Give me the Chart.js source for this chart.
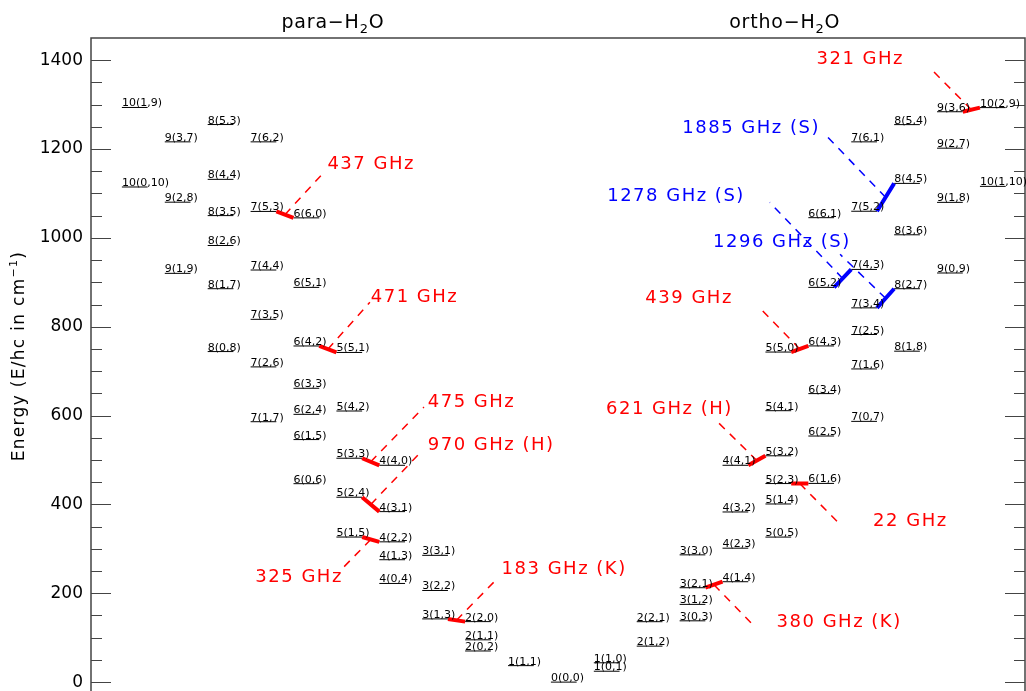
<!DOCTYPE html>
<html>
<head>
<meta charset="utf-8">
<script src="https://cdn.jsdelivr.net/npm/chart.js@4"></script>
<style>
  html, body { margin: 0; padding: 0; background: #fff; }
</style>
</head>
<body>
<canvas id="levels" width="1026" height="691"></canvas>
<script>
// Water rotational levels J(Ka,Kc), energies in cm^-1
const paraNames = ['0(0,0)', '1(1,1)', '2(0,2)', '2(1,1)', '2(2,0)', '3(1,3)', '3(2,2)', '3(3,1)',
  '4(0,4)', '4(1,3)', '4(2,2)', '4(3,1)', '4(4,0)', '5(1,5)', '5(2,4)', '5(3,3)', '5(4,2)', '5(5,1)',
  '6(0,6)', '6(1,5)', '6(2,4)', '6(3,3)', '6(4,2)', '6(5,1)', '6(6,0)',
  '7(1,7)', '7(2,6)', '7(3,5)', '7(4,4)', '7(5,3)', '7(6,2)',
  '8(0,8)', '8(1,7)', '8(2,6)', '8(3,5)', '8(4,4)', '8(5,3)',
  '9(1,9)', '9(2,8)', '9(3,7)', '10(0,10)', '10(1,9)'];
const paraEnergy = [0, 37.1, 70.1, 95.2, 136.2, 142.3, 206.3, 285.4,
  222.1, 275.5, 315.8, 383.8, 488.1, 326.6, 416.2, 504.0, 610.3, 742.1,
  446.7, 546, 602.8, 661.5, 756.7, 888.6, 1045.1,
  586.2, 709.6, 816.7, 927.7, 1059.6, 1216.2,
  744.1, 885.6, 982.9, 1050.2, 1131.8, 1255.2,
  920.2, 1080.4, 1216.2, 1114.6, 1293.6];

const orthoNames = ['1(0,1)', '1(1,0)', '2(1,2)', '2(2,1)', '3(0,3)', '3(1,2)', '3(2,1)', '3(3,0)',
  '4(1,4)', '4(2,3)', '4(3,2)', '4(4,1)', '5(0,5)', '5(1,4)', '5(2,3)', '5(3,2)', '5(4,1)', '5(5,0)',
  '6(1,6)', '6(2,5)', '6(3,4)', '6(4,3)', '6(5,2)', '6(6,1)',
  '7(0,7)', '7(1,6)', '7(2,5)', '7(3,4)', '7(4,3)', '7(5,2)', '7(6,1)',
  '8(1,8)', '8(2,7)', '8(3,6)', '8(4,5)', '8(5,4)',
  '9(0,9)', '9(1,8)', '9(2,7)', '9(3,6)', '10(1,10)', '10(2,9)'];
const orthoEnergy = [24.5, 43.5, 81, 136, 138, 175, 212.5, 286.5,
  226, 301.5, 383, 488.1, 326.5, 401, 447, 509.5, 611, 743,
  447.3, 554, 649.5, 756.8, 888.6, 1045.5,
  587, 705, 782.5, 842.5, 929, 1060, 1216.2,
  745, 885.6, 1007, 1122.7, 1255,
  921, 1080, 1202, 1284, 1116, 1293.3];

// transitions: lower-J column level -> next column level
const transFrom = ['p7(5,3)', 'p6(4,2)', 'p5(3,3)', 'p5(2,4)', 'p5(1,5)', 'p3(1,3)',
  'o3(2,1)', 'o4(4,1)', 'o5(2,3)', 'o5(5,0)', 'o6(5,2)', 'o7(3,4)', 'o7(5,2)', 'o9(3,6)'];
const transTo = ['p6(6,0)', 'p5(5,1)', 'p4(4,0)', 'p4(3,1)', 'p4(2,2)', 'p2(2,0)',
  'o4(1,4)', 'o5(3,2)', 'o6(1,6)', 'o6(4,3)', 'o7(4,3)', 'o8(2,7)', 'o8(4,5)', 'o10(2,9)'];
const transLabels = ['437 GHz', '471 GHz', '475 GHz', '970 GHz (H)', '325 GHz', '183 GHz (K)',
  '380 GHz (K)', '621 GHz (H)', '22 GHz', '439 GHz', '1278 GHz (S)', '1296 GHz (S)', '1885 GHz (S)', '321 GHz'];

const yTicks = [0, 200, 400, 600, 800, 1000, 1200, 1400];

// layout (column units / energy units)
const levelWidth = 0.6;
const leaderEnd = [[4.73, 1150], [5.78, 855], [7.04, 619], [6.99, 520], [5.08, 250], [8.74, 232],
  [14.76, 124], [13.82, 592], [16.78, 351], [14.83, 846], [15.1, 1080], [16.74, 963], [16.41, 1231], [18.83, 1383]];
const labelAt = [[4.79, 1166, 'left'], [5.80, 866, 'left'], [7.13, 630, 'left'], [7.13, 534, 'left'],
  [5.15, 237, 'right'], [8.85, 254, 'left'], [15.26, 134, 'left'], [14.24, 614, 'right'],
  [17.51, 361, 'left'], [14.24, 864, 'right'], [14.52, 1093, 'right'], [13.78, 990, 'left'],
  [16.27, 1247, 'right'], [18.23, 1403, 'right']];
const titleCols = { para: 4.92, ortho: 15.45 };

const RED = '#ff0000';
const BLUE = '#0000ff';

// column index: para J=10 is leftmost, ortho J=10 rightmost
const levels = {};
const levelList = [];
function addLevels(side, names, energies) {
  names.forEach((n, i) => {
    const J = parseInt(n, 10);
    const lv = { name: n, c: side === 'p' ? 10 - J : 10 + J, e: energies[i] };
    levels[side + n] = lv;
    levelList.push(lv);
  });
}
addLevels('p', paraNames, paraEnergy);
addLevels('o', orthoNames, orthoEnergy);

const levelData = [];
levelList.forEach(lv => {
  levelData.push({ x: lv.c, y: lv.e }, { x: lv.c + levelWidth, y: lv.e }, { x: lv.c + levelWidth, y: null });
});

const redThick = [], blueThick = [], redDash = [], blueDash = [];
transFrom.forEach((k, i) => {
  const a = levels[k], b = levels[transTo[i]];
  const x0 = a.c + levelWidth, x1 = b.c;
  const mid = { x: (x0 + x1) / 2, y: (a.e + b.e) / 2 };
  const blue = transLabels[i].indexOf('(S)') >= 0;
  const thick = blue ? blueThick : redThick;
  const dash = blue ? blueDash : redDash;
  thick.push({ x: x0, y: a.e }, { x: x1, y: b.e }, { x: x1, y: null });
  dash.push(mid, { x: leaderEnd[i][0], y: leaderEnd[i][1] }, { x: leaderEnd[i][0], y: null });
});

function lineSet(data, color, width, dash) {
  return {
    data: data,
    showLine: true,
    borderColor: color,
    borderWidth: width,
    borderDash: dash || [],
    pointRadius: 0,
    spanGaps: false,
    borderCapStyle: 'butt'
  };
}

const FONT = '"DejaVu Sans", "Liberation Sans", sans-serif';

const overlay = {
  id: 'overlay',
  afterDraw(chart) {
    const { ctx, chartArea: a, scales: { x, y } } = chart;
    const spacing = v => { if ('letterSpacing' in ctx) ctx.letterSpacing = v; };
    ctx.save();

    // frame + inward ticks on both sides
    ctx.strokeStyle = '#444';
    ctx.lineWidth = 1.5;
    ctx.beginPath();
    ctx.moveTo(a.left, a.bottom);
    ctx.lineTo(a.left, a.top);
    ctx.lineTo(a.right, a.top);
    ctx.lineTo(a.right, a.bottom);
    ctx.stroke();
    ctx.lineWidth = 1;
    for (let v = 0; v < 1450; v += 50) {
      const py = Math.round(y.getPixelForValue(v)) + 0.5;
      const len = v % 200 === 0 ? 20 : 11;
      ctx.beginPath();
      ctx.moveTo(a.left, py); ctx.lineTo(a.left + len, py);
      ctx.moveTo(a.right, py); ctx.lineTo(a.right - len, py);
      ctx.stroke();
    }

    // level labels
    ctx.fillStyle = '#000';
    ctx.font = '11px ' + FONT;
    ctx.textAlign = 'left';
    ctx.textBaseline = 'alphabetic';
    levelList.forEach(lv => {
      ctx.fillText(lv.name, x.getPixelForValue(lv.c), y.getPixelForValue(lv.e) - 1);
    });

    // transition labels
    ctx.font = '18px ' + FONT;
    ctx.textBaseline = 'middle';
    spacing('1.5px');
    transLabels.forEach((t, i) => {
      const p = labelAt[i];
      ctx.fillStyle = t.indexOf('(S)') >= 0 ? BLUE : RED;
      ctx.textAlign = p[2];
      ctx.fillText(t, x.getPixelForValue(p[0]), y.getPixelForValue(p[1]));
    });

    // panel titles with subscript
    ctx.fillStyle = '#000';
    ctx.textAlign = 'left';
    ctx.textBaseline = 'alphabetic';
    spacing('0.8px');
    function subTitle(pre, cx, by) {
      ctx.font = '19px ' + FONT;
      const w1 = ctx.measureText(pre + 'H').width;
      const w3 = ctx.measureText('O').width;
      ctx.font = '13px ' + FONT;
      const w2 = ctx.measureText('2').width;
      let px = cx - (w1 + w2 + w3) / 2;
      ctx.font = '19px ' + FONT;
      ctx.fillText(pre + 'H', px, by);
      px += w1;
      ctx.font = '13px ' + FONT;
      ctx.fillText('2', px, by + 5);
      px += w2;
      ctx.font = '19px ' + FONT;
      ctx.fillText('O', px, by);
    }
    subTitle('para\u2212', x.getPixelForValue(titleCols.para), a.top - 10);
    subTitle('ortho\u2212', x.getPixelForValue(titleCols.ortho), a.top - 10);

    // y axis title with superscript
    spacing('1.3px');
    ctx.translate(24, 356);
    ctx.rotate(-Math.PI / 2);
    ctx.font = '17px ' + FONT;
    const t1 = 'Energy (E/hc in cm';
    const w1 = ctx.measureText(t1).width;
    const w3 = ctx.measureText(')').width;
    ctx.font = '11px ' + FONT;
    const w2 = ctx.measureText('\u22121').width;
    let px = -(w1 + w2 + w3) / 2;
    ctx.font = '17px ' + FONT;
    ctx.fillText(t1, px, 0);
    px += w1;
    ctx.font = '11px ' + FONT;
    ctx.fillText('\u22121', px, -7);
    px += w2;
    ctx.font = '17px ' + FONT;
    ctx.fillText(')', px, 0);
    spacing('0px');

    ctx.restore();
  }
};

const chart = new Chart(document.getElementById('levels'), {
  type: 'scatter',
  data: {
    datasets: [
      lineSet(redThick, RED, 4),
      lineSet(blueThick, BLUE, 4),
      lineSet(levelData, '#000', 1),
      lineSet(redDash, RED, 1.5, [8, 7]),
      lineSet(blueDash, BLUE, 1.5, [8, 7])
    ]
  },
  options: {
    responsive: false,
    animation: false,
    devicePixelRatio: 1,
    layout: { autoPadding: false, padding: { top: 38, right: 1, bottom: 0, left: 0 } },
    plugins: { legend: { display: false }, tooltip: { enabled: false } },
    scales: {
      x: { type: 'linear', display: false, min: -0.72, max: 21.05 },
      y: {
        type: 'linear',
        min: -20,
        max: 1450,
        afterFit: s => { s.width = 91; s.paddingTop = 0; s.paddingBottom = 0; },
        afterBuildTicks: s => { s.ticks = yTicks.map(v => ({ value: v })); },
        grid: { display: false, drawTicks: false },
        border: { display: false },
        ticks: { color: '#000', padding: 8, font: { family: FONT, size: 17 }, callback: v => String(v) }
      }
    }
  },
  plugins: [overlay]
});
</script>
</body>
</html>
